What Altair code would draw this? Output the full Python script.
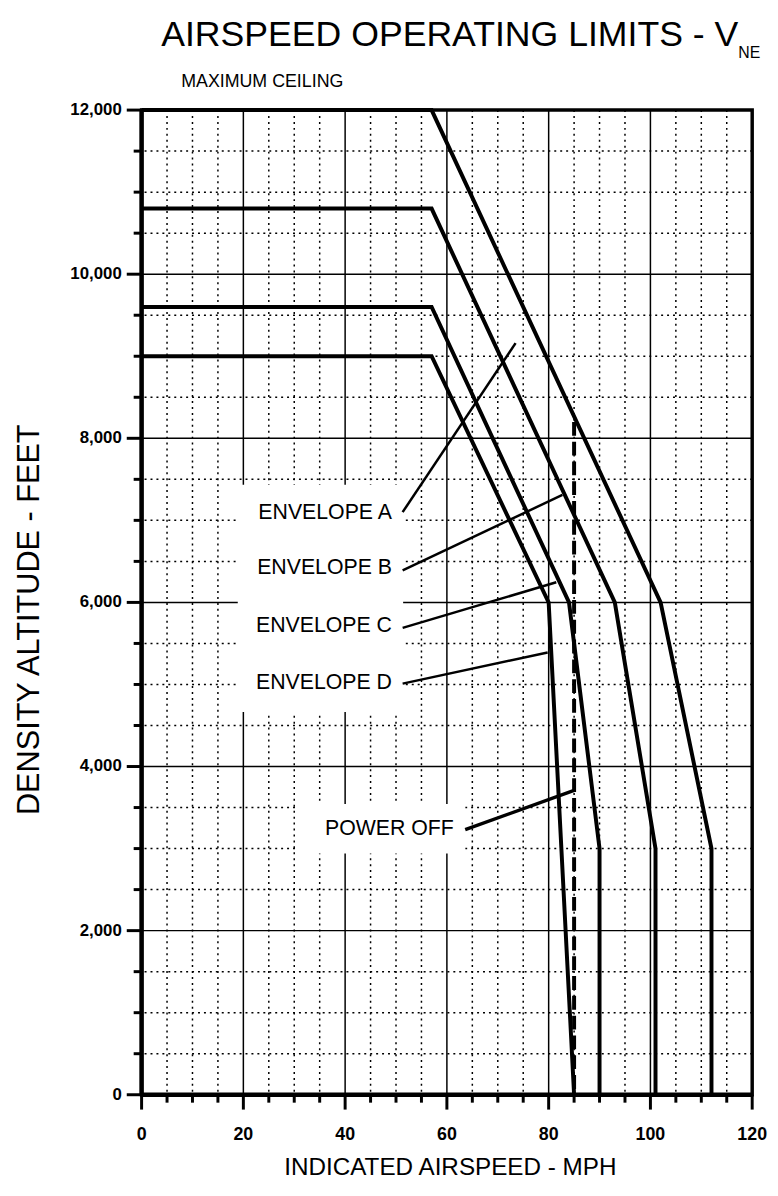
import altair as alt
import pandas as pd

FONT = "Liberation Sans"

# ---- data (mph, feet) ----
env_a_mph = [0, 57, 102, 112, 112]
env_a_ft = [12000, 12000, 6000, 3000, 0]
env_b_mph = [0, 57, 93, 101, 101]
env_b_ft = [10800, 10800, 6000, 3000, 0]
env_c_mph = [0, 57, 84, 90, 90]
env_c_ft = [9600, 9600, 6000, 3000, 0]
env_d_mph = [0, 57, 80, 85]
env_d_ft = [9000, 9000, 6000, 0]
power_off_mph = [85, 85]
power_off_ft = [8200, 0]

x_major = [0, 20, 40, 60, 80, 100, 120]
x_labels = ["0", "20", "40", "60", "80", "100", "120"]
x_minor = [v for v in range(0, 121, 5) if v % 20]
y_major = [0, 2000, 4000, 6000, 8000, 10000, 12000]
y_labels = ["0", "2,000", "4,000", "6,000", "8,000", "10,000", "12,000"]
y_minor = [v for v in range(0, 12001, 500) if v % 2000]

label_texts = ["ENVELOPE A", "ENVELOPE B", "ENVELOPE C", "ENVELOPE D"]
label_mph = [49.2, 49.2, 49.2, 49.2]
label_ft = [7090, 6420, 5710, 5020]
leader_mph1 = [51.3, 51.3, 51.3, 51.3, 63.6]
leader_ft1 = [7100, 6390, 5690, 5010, 3230]
leader_mph2 = [73.5, 82.7, 81.5, 79.8, 85.0]
leader_ft2 = [9160, 7310, 6245, 5390, 3710]
leader_width = [2.5, 2.5, 2.5, 2.5, 3.5]
po_text = ["POWER OFF"]
po_mph = [48.7]
po_ft = [3240]

# white boxes behind the annotation labels
box_mph1 = [18.9, 30.5]
box_mph2 = [51.4, 63.6]
box_ft1 = [4663, 2940]
box_ft2 = [7434, 3542]

# ---- tables ----
rows = []
for name, xs_, ys_ in [("A", env_a_mph, env_a_ft), ("B", env_b_mph, env_b_ft),
                       ("C", env_c_mph, env_c_ft), ("D", env_d_mph, env_d_ft)]:
    for i, (x, y) in enumerate(zip(xs_, ys_)):
        rows.append({"env": name, "i": i, "mph": x, "ft": y})
env_df = pd.DataFrame(rows)
po_df = pd.DataFrame({"i": [0, 1], "mph": power_off_mph, "ft": power_off_ft})
lbl_df = pd.DataFrame({"t": label_texts, "mph": label_mph, "ft": label_ft})
lead_df = pd.DataFrame({"x1": leader_mph1, "y1": leader_ft1, "x2": leader_mph2,
                        "y2": leader_ft2, "w": leader_width})
po_lbl_df = pd.DataFrame({"t": po_text, "mph": po_mph, "ft": po_ft})
box_df = pd.DataFrame({"x1": box_mph1, "x2": box_mph2, "y1": box_ft1, "y2": box_ft2})
xmaj_df = pd.DataFrame({"v": x_major, "t": x_labels})
ymaj_df = pd.DataFrame({"v": y_major, "t": y_labels})

W, H = 617, 995
xs = alt.Scale(domain=[0, 120], nice=False, zero=False)
ys = alt.Scale(domain=[0, 12000], nice=False, zero=False)


def X(f):
    return alt.X(f, scale=xs, axis=None)


def Y(f):
    return alt.Y(f, scale=ys, axis=None)


# grid
vminor = alt.Chart(pd.DataFrame({"v": x_minor})).mark_rule(
    color="black", strokeWidth=1.5, strokeDash=[2, 4]).encode(x=X("v:Q"))
hminor = alt.Chart(pd.DataFrame({"v": y_minor})).mark_rule(
    color="black", strokeWidth=1.5, strokeDash=[2, 4]).encode(y=Y("v:Q"))
vmajor = alt.Chart(xmaj_df).mark_rule(color="black", strokeWidth=1.5).encode(x=X("v:Q"))
hmajor = alt.Chart(ymaj_df).mark_rule(color="black", strokeWidth=1.5).encode(y=Y("v:Q"))

# ticks outside the plot area
xticks_min = alt.Chart(pd.DataFrame({"v": x_minor})).mark_rule(
    color="black", strokeWidth=3).encode(x=X("v:Q"), y=alt.value(H), y2=alt.value(H + 8))
yticks_min = alt.Chart(pd.DataFrame({"v": y_minor})).mark_rule(
    color="black", strokeWidth=3).encode(y=Y("v:Q"), x=alt.value(0), x2=alt.value(-8))
xticks_maj = alt.Chart(xmaj_df).mark_rule(
    color="black", strokeWidth=3).encode(x=X("v:Q"), y=alt.value(H), y2=alt.value(H + 15))
yticks_maj = alt.Chart(ymaj_df).mark_rule(
    color="black", strokeWidth=3).encode(y=Y("v:Q"), x=alt.value(0), x2=alt.value(-15))

# axis lines (left and bottom heavy)
left_axis = alt.Chart(pd.DataFrame({"v": [0]})).mark_rule(
    color="black", strokeWidth=4.5).encode(x=X("v:Q"), y=alt.value(0), y2=alt.value(H))
bottom_axis = alt.Chart(pd.DataFrame({"v": [0]})).mark_rule(
    color="black", strokeWidth=4.5).encode(y=Y("v:Q"), x=alt.value(0), x2=alt.value(W))

# tick labels
xlab = alt.Chart(xmaj_df).mark_text(
    font=FONT, fontSize=18, fontWeight="bold", align="center", baseline="middle",
    color="black").encode(x=X("v:Q"), y=alt.value(H + 41), text="t:N")
ylab = alt.Chart(ymaj_df).mark_text(
    font=FONT, fontSize=17, fontWeight="bold", align="right", baseline="middle",
    color="black").encode(y=Y("v:Q"), x=alt.value(-20), text="t:N")

boxes = alt.Chart(box_df).mark_rect(color="white").encode(
    x=X("x1:Q"), x2="x2:Q", y=Y("y1:Q"), y2="y2:Q")

lines = alt.Chart(env_df).mark_line(color="black", strokeWidth=4, strokeJoin="miter").encode(
    x=X("mph:Q"), y=Y("ft:Q"), detail="env:N", order="i:Q")

power = alt.Chart(po_df).mark_line(color="black", strokeWidth=4, strokeDash=[14, 6]).encode(
    x=X("mph:Q"), y=Y("ft:Q"), order="i:Q")

leaders = alt.Chart(lead_df).mark_rule(color="black").encode(
    x=X("x1:Q"), x2="x2:Q", y=Y("y1:Q"), y2="y2:Q",
    strokeWidth=alt.StrokeWidth("w:Q", scale=None))

labels = alt.Chart(lbl_df).mark_text(
    font=FONT, fontSize=21.5, align="right", baseline="middle", color="black").encode(
    x=X("mph:Q"), y=Y("ft:Q"), text="t:N")
po_label = alt.Chart(po_lbl_df).mark_text(
    font=FONT, fontSize=21.5, align="center", baseline="middle", color="black").encode(
    x=X("mph:Q"), y=Y("ft:Q"), text="t:N")

one = pd.DataFrame({"t": [""]})


def txt(s, x, y, size, align="left", angle=0):
    kw = dict(font=FONT, fontSize=size, align=align, baseline="middle", color="black")
    if angle:
        kw["angle"] = angle
    return alt.Chart(one).mark_text(**kw).encode(
        x=alt.value(x), y=alt.value(y), text=alt.value(s))


title = txt("AIRSPEED OPERATING LIMITS - V", 603, -76, 36, align="right")
sub = txt("NE", 603, -58, 16)
ceiling = txt("MAXIMUM CEILING", 40, -28, 18)
ytitle = txt("DENSITY ALTITUDE - FEET", -113, 515, 31, align="center", angle=270)
xtitle = txt("INDICATED AIRSPEED - MPH", 312, 1069, 24.5, align="center")

chart = alt.layer(
    vminor, hminor, vmajor, hmajor, boxes, lines, power, leaders,
    xticks_min, yticks_min, xticks_maj, yticks_maj, left_axis, bottom_axis,
    xlab, ylab, labels, po_label, title, sub, ceiling, ytitle, xtitle,
).properties(
    width=W, height=H,
    autosize=alt.AutoSizeParams(type="none"),
    padding={"left": 135, "top": 97, "right": 18, "bottom": 80},
).configure_view(stroke="black", strokeWidth=3.5)

chart.save("out.html", embed_options={"renderer": "svg", "actions": False})
